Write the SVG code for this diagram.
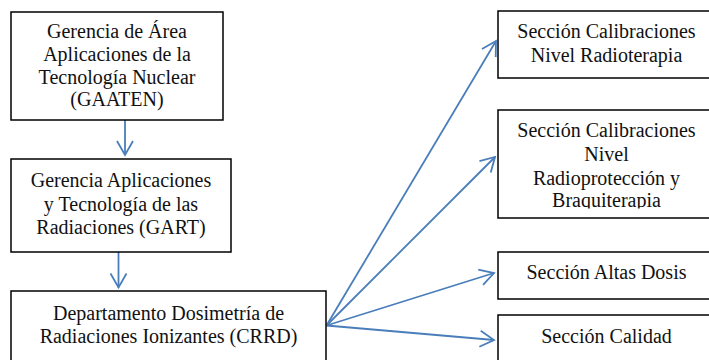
<svg xmlns="http://www.w3.org/2000/svg" width="709" height="360" viewBox="0 0 709 360">
<style>
.box{fill:#fff;stroke:#000;stroke-width:1.5}
.t{font-family:"Liberation Serif","Times New Roman",serif;font-size:20px;fill:#111;text-anchor:middle}
.c{fill:none;stroke:#4a7ebb;stroke-width:1.8}
</style>
<defs>
<marker id="ah" markerUnits="userSpaceOnUse" markerWidth="20" markerHeight="20" refX="0" refY="0" viewBox="-16 -10 20 20" orient="auto" overflow="visible">
<path d="M-14,-8 L0,0 L-14,8" fill="none" stroke="#4a7ebb" stroke-width="1.8"/>
</marker>
<clipPath id="clipB"><rect x="498" y="110" width="220" height="98.5"/></clipPath>
</defs>
<rect width="709" height="360" fill="#fff"/>
<g id="connectors">
<line class="c" x1="125" y1="120" x2="125" y2="155" marker-end="url(#ah)"/>
<line class="c" x1="118.5" y1="252" x2="118.5" y2="287.5" marker-end="url(#ah)"/>
<line class="c" x1="326.5" y1="325.5" x2="496" y2="41" marker-end="url(#ah)"/>
<line class="c" x1="326.5" y1="325.5" x2="495" y2="157" marker-end="url(#ah)"/>
<line class="c" x1="326.5" y1="325.5" x2="494" y2="273" marker-end="url(#ah)"/>
<line class="c" x1="326.5" y1="325.5" x2="494" y2="340" marker-end="url(#ah)"/>
</g>
<g id="gaaten">
<rect class="box" x="11" y="12" width="212" height="108"/>
<text class="t" x="117" y="38">Gerencia de Área</text>
<text class="t" x="117" y="61">Aplicaciones de la</text>
<text class="t" x="117" y="84">Tecnología Nuclear</text>
<text class="t" x="117" y="106">(GAATEN)</text>
</g>
<g id="gart">
<rect class="box" x="11" y="159" width="220" height="93"/>
<text class="t" x="121" y="187">Gerencia Aplicaciones</text>
<text class="t" x="121" y="211">y Tecnología de las</text>
<text class="t" x="121" y="234">Radiaciones (GART)</text>
</g>
<g id="crrd">
<rect class="box" x="11" y="291" width="315" height="80"/>
<text class="t" x="168.5" y="320">Departamento Dosimetría de</text>
<text class="t" x="168.5" y="343">Radiaciones Ionizantes (CRRD)</text>
</g>
<g id="radioterapia">
<rect class="box" x="498" y="11" width="217" height="67"/>
<text class="t" x="606.5" y="38">Sección Calibraciones</text>
<text class="t" x="606.5" y="62">Nivel Radioterapia</text>
</g>
<g id="radioproteccion">
<rect class="box" x="498" y="110" width="217" height="108"/>
<g clip-path="url(#clipB)">
<text class="t" x="606.5" y="137">Sección Calibraciones</text>
<text class="t" x="606.5" y="161">Nivel</text>
<text class="t" x="606.5" y="185">Radioprotección y</text>
<text class="t" x="606.5" y="207">Braquiterapia</text>
</g>
</g>
<g id="altasdosis">
<rect class="box" x="498" y="252" width="217" height="47"/>
<text class="t" x="606.5" y="279">Sección Altas Dosis</text>
</g>
<g id="calidad">
<rect class="box" x="498" y="315" width="217" height="60"/>
<text class="t" x="606.5" y="343">Sección Calidad</text>
</g>
</svg>
